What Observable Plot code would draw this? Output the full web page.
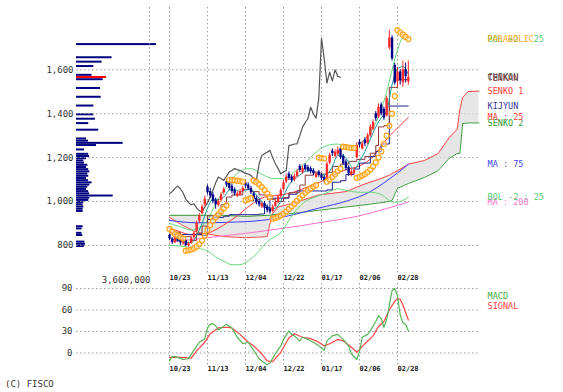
<!DOCTYPE html>
<html><head><meta charset="utf-8">
<script src="https://cdn.jsdelivr.net/npm/d3@7"></script>
<script src="https://cdn.jsdelivr.net/npm/@observablehq/plot@0.6"></script>
<style>
html,body{margin:0;padding:0;background:#fff;}
#chart{position:relative;width:563px;height:392px;overflow:hidden;font-family:"DejaVu Sans Mono",monospace;}
#chart svg{position:absolute;left:0;background:transparent;}
.copy{position:absolute;left:5px;top:378px;font-size:9px;line-height:12px;color:#333;}
</style></head><body><div id="chart"><div class="copy">(C) FISCO</div></div>
<script>
// ---------- data ----------
const dateLabels = ["10/23","11/13","12/04","12/22","01/17","02/06","02/28"];
const dateIdx    = [0,14,28,42,56,70,84];
const chartStartIdx = -7.4;
const yTicks = [800,1000,1200,1400,1600];
const macdTicks = [0,30,60,90];

const opens  = [845,828,812,838,822,808,822,798,810,835,862,910,945,985,1065,1045,1030,1005,982,1005,1040,1090,1085,1070,1050,1025,1030,1045,1085,1075,1060,1035,1015,1000,975,990,975,965,955,978,995,1022,1055,1090,1125,1112,1098,1115,1160,1130,1165,1155,1150,1140,1110,1135,1120,1110,1105,1175,1230,1205,1215,1240,1205,1180,1155,1120,1130,1200,1270,1240,1280,1265,1300,1330,1400,1385,1440,1420,1390,1700,1745,1620,1545,1590,1540,1600,1545];
const highs  = [852,835,842,845,830,835,828,815,838,862,910,945,985,1025,1075,1060,1040,1015,1010,1040,1065,1100,1092,1080,1062,1045,1055,1068,1095,1085,1068,1042,1025,1010,998,1000,985,972,985,1005,1030,1060,1095,1125,1135,1120,1125,1145,1168,1162,1172,1165,1158,1150,1135,1142,1128,1118,1180,1220,1240,1235,1248,1250,1215,1190,1162,1145,1152,1268,1282,1275,1290,1310,1350,1372,1410,1445,1450,1430,1480,1780,1755,1630,1610,1600,1640,1630,1640];
const lows   = [822,805,808,815,800,800,795,792,805,828,858,900,938,978,1030,1015,990,965,975,998,1030,1065,1050,1035,1025,1018,1025,1040,1060,1050,1032,1000,985,975,968,962,948,942,950,972,990,1015,1048,1082,1095,1085,1090,1108,1132,1125,1138,1132,1125,1118,1105,1110,1095,1085,1100,1168,1205,1198,1208,1192,1165,1140,1115,1112,1122,1195,1245,1235,1250,1258,1292,1322,1365,1378,1390,1370,1385,1690,1640,1530,1520,1530,1520,1540,1530];
const closes = [830,815,835,820,812,826,800,808,830,855,900,935,975,1010,1040,1025,1000,985,1000,1030,1055,1075,1060,1045,1035,1035,1045,1060,1070,1058,1040,1010,995,985,990,970,958,952,975,995,1020,1050,1085,1111,1105,1096,1115,1135,1141,1150,1145,1141,1135,1128,1125,1119,1105,1096,1170,1210,1218,1225,1233,1200,1172,1150,1126,1135,1141,1255,1258,1262,1263,1300,1339,1360,1377,1430,1400,1380,1470,1745,1650,1540,1590,1550,1600,1570,1566];
const CHIKOU_SHIFT = 25;

const sar = [875,862,852,845,838,832,776,778,781,786,794,806,822,845,870,893,912,928,942,955,968,982,1098,1097,1096,1095,1093,1090,1005,1010,1015,1095,1088,1078,1066,1052,1036,1020,922,925,930,936,944,954,966,978,990,1003,1016,1028,1040,1050,1060,1068,1075,1200,1198,1196,1090,1100,1112,1125,1138,1150,1250,1248,1246,1245,1244,1108,1112,1118,1125,1134,1146,1160,1178,1200,1228,1262,1300,1345,1400,1480,1780,1770,1760,1750,1740];

const ma25J  = [0,4,8,12,16,20,25,30,35,40,45,50,55,60,65,70,75,79,84,88];
const ma25V  = [880,862,848,848,865,893,935,985,1020,1028,1040,1062,1085,1118,1145,1162,1205,1270,1335,1383];
const ma75J  = [0,10,21,34,44,55,66,74,79,84,88];
const ma75V  = [914,903,905,914,935,970,1005,1045,1085,1130,1170];
const ma200J = [0,14,28,42,56,70,80,88];
const ma200V = [815,835,855,878,905,935,968,998];
const bolUJ  = [0,4,8,11,14,17,20,23,26,30,34,38,42,46,50,54,58,62,66,70,74,78,80,82,84,86,88];
const bolUV  = [900,885,870,880,915,990,1050,1100,1140,1150,1125,1105,1105,1135,1175,1225,1255,1262,1245,1262,1315,1420,1500,1600,1690,1745,1740];
const bolLJ  = [0,4,8,11,14,17,20,23,26,29,32,35,38,41,44,47,50,54,58,62,66,70,74,78,81,83,86,88];
const bolLV  = [800,797,790,785,775,748,728,712,712,730,760,805,835,858,915,965,1000,1022,1040,1058,1048,1042,1042,1032,1005,996,1005,1020];
const tenkanJ = [0,4,8,10,12,14,17,19,21,23,27,30,33,36,39,42,44,48,50,53,56,58,60,63,66,69,72,74,76,77,79,81,84,88];
const tenkanV = [860,840,822,855,888,935,945,985,1020,1030,1055,1045,1030,1010,1000,1018,1040,1075,1120,1130,1125,1133,1160,1170,1183,1192,1205,1220,1255,1340,1345,1520,1555,1560];
const kijunJ = [0,12,14,16,20,22,33,35,37,44,47,58,60,63,65,68,70,74,76,78,81,88];
const kijunV = [850,845,918,928,933,940,943,972,1015,1033,1048,1053,1088,1095,1123,1148,1175,1205,1228,1262,1435,1435];
const tealJ = [0,2,4,6,8,10,12,14,16,18,20,22,24,26,28,30,32,34,36,38,40,42,44,46,48,50,52,54,56,58,60,62,64,66,68,70,72,74,76,78,80,82,84,86,88];
const tealV = [835,825,822,815,812,845,900,970,1010,1010,1020,1052,1055,1045,1052,1055,1030,1000,978,966,980,1026,1075,1103,1120,1137,1142,1133,1122,1125,1160,1211,1210,1180,1145,1183,1228,1284,1340,1381,1411,1532,1604,1615,1580];
const cloudS = [0,5,10,20,28,36,37,38,40,45,55,65,72,78,81,82,84,88,94,99,103,106,107,108,110,114];
const senko1 = [928,890,860,840,835,840,900,946,975,990,1030,1045,1080,1105,1120,1128,1140,1170,1187,1219,1290,1330,1420,1474,1501,1503];
const senko2 = [937,937,937,937,932,937,937,940,942,945,960,975,985,995,1000,1005,1060,1082,1110,1141,1196,1219,1219,1355,1358,1358];

const volBins = [1710,1650,1630,1610,1570,1560,1550,1510,1470,1430,1390,1370,1350,1320,1280,1270,1260,1250,1230,1210,1200,1190,1180,1170,1160,1150,1140,1130,1120,1110,1100,1090,1080,1070,1060,1050,1040,1030,1020,1010,1000,990,980,970,960,950,880,870,850,840,810,800,790];
const volAmts = [3600000,1600000,1150000,780000,700000,1350000,1200000,1080000,1110000,780000,780000,850000,550000,1000000,450000,540000,2100000,900000,360000,550000,590000,450000,330000,360000,510000,450000,550000,600000,510000,550000,450000,540000,700000,600000,510000,450000,550000,590000,1650000,600000,550000,330000,300000,330000,300000,300000,300000,250000,250000,280000,380000,400000,350000];
const VOL_BIN = 10;
const CURRENT_BIN = 1560;
const VOL_MAX = 3600000;

const macdJ = [0,1,2,3,5,7,9,11,13,14,15,16,17,18,19,21,23,25,27,29,31,33,35,36,37,39,41,42,44,45,46,48,49,51,53,55,57,58,60,62,64,66,67,69,70,71,73,74,76,77,78,79,80,81,82,83,84,85,86,87,88];
const macdV = [-11,-5,-5,-6,-9,-8,4,15,20,35,40,41,38,32,35,40,35,22,13,15,4,-8,-14,-16,-14,-1,10,19,31,26,24,17,22,19,15,10,4,17,24,26,19,10,-1,-9,2,22,26,31,44,52,48,36,46,67,87,90,80,53,42,40,31];
const sigJ = [0,4,8,10,13,15,18,21,23,26,29,31,34,36,38,41,44,46,49,52,54,57,59,62,64,67,69,72,75,77,79,81,83,84,85,86,88];
const sigV = [-6,-6,-7,3,15,27,35,36,35,26,15,10,-1,-11,-12,1,21,27,22,20,17,10,13,19,17,8,1,13,24,37,44,60,72,76,75,67,46];

// ---------- layout / style ----------
const W = 563;
const FONT = "DejaVu Sans Mono";
const X_DOMAIN = [-34.27, 113.85];
const LABEL_X = 117.2;
const C = {up:"#ff2a2a", down:"#000088", sar:"#ffa31a", bol:"#66d97a", chikou:"#555555", tenkan:"#8b3a3a",
  teal:"#1a9a9a", senko1:"#ff4a4a", senko2:"#3a9a3a", kijun:"#22228c", ma25:"#ff3b3b", ma75:"#3b3bff",
  ma200:"#ff70cf", macd:"#55b455", signal:"#ff4545", grid:"#9a9a9a", text:"#333333"};
const GRID = {stroke: C.grid, strokeOpacity: 1, strokeDasharray: "1.5,2.5", strokeWidth: 1};
const fmtComma = d3.format(",");

const pairs = (xs, ys) => xs.map((x, k) => ({x, y: ys[k]}));
const last = a => a[a.length - 1];
const candles = closes.map((c, i) => ({i, o: opens[i], h: highs[i], l: lows[i], c, col: c >= opens[i] ? C.up : C.down}));
const chikou = closes.slice(CHIKOU_SHIFT).map((c, k) => ({x: k, y: c}));
const cloud = cloudS.map((s, k) => ({x: s, y1: senko1[k], y2: senko2[k]}));
const sarPts = sar.map((v, i) => ({x: i, y: v}));
const xLabels = dateIdx.map((d, k) => ({x: d, t: dateLabels[k]}));
const vol = volBins.map((b, k) => ({b, v: volAmts[k], col: b === CURRENT_BIN ? "#ff0000" : "#000080"}));

const legend = [
  {t:"BOL +2 : 25", c:"#55cc77", v:last(bolUV)},
  {t:"PARABOLIC", c:"#ffaa22", v:last(sar)},
  {t:"CHIKOU", c:"#555555", v:last(closes)},
  {t:"TENKAN", c:"#7a3a3a", v:last(tenkanV)},
  {t:"SENKO 1", c:"#ff3b3b", v:last(senko1)},
  {t:"KIJYUN", c:"#333399", v:last(kijunV)},
  {t:"SENKO 2", c:"#339933", v:last(senko2)},
  {t:"MA : 25", c:"#ff3b3b", v:last(ma25V)},
  {t:"MA : 75", c:"#4444ff", v:last(ma75V)},
  {t:"MA : 200", c:"#ff77cc", v:last(ma200V)},
  {t:"BOL -2 : 25", c:"#55cc77", v:last(bolLV)}
];

const line = (pts, stroke, extra = {}) => Plot.line(pts, {x: "x", y: "y", stroke, strokeWidth: 1, ...extra});

// ---------- volume profile (overlay) ----------
const volPlot = Plot.plot({
  width: W, height: 285, marginLeft: 76, marginRight: W - 156, marginTop: 7, marginBottom: 12,
  x: {domain: [0, VOL_MAX], axis: null},
  y: {domain: [672, 1884], axis: null},
  color: {type: "identity"},
  marks: [
    Plot.rectX(vol, {y1: "b", y2: d => d.b + VOL_BIN, x: "v", fill: "col", insetTop: 0.1, insetBottom: 0.1}),
    Plot.text([VOL_MAX], {x: d => d, text: d => fmtComma(d), frameAnchor: "bottom", dy: 9, dx: -6,
      textAnchor: "end", fontSize: 9, fill: C.text, fontFamily: FONT})
  ]
});

// ---------- main price chart ----------
const mainPlot = Plot.plot({
  width: W, height: 285, marginLeft: 76, marginRight: 85, marginTop: 7, marginBottom: 12,
  x: {domain: X_DOMAIN, axis: null},
  y: {domain: [672, 1884], axis: null},
  color: {type: "identity"},
  marks: [
    Plot.gridY({ticks: yTicks, ...GRID}),
    Plot.gridX({ticks: [chartStartIdx, ...dateIdx], ...GRID}),
    Plot.axisY({ticks: yTicks, tickSize: 0, tickPadding: 3, tickFormat: fmtComma, fontSize: 9, color: C.text, fontFamily: FONT, label: null}),
    Plot.areaY(cloud, {x: "x", y1: "y1", y2: "y2", fill: "#dedede", fillOpacity: 0.75}),
    line(cloud.map(d => ({x: d.x, y: d.y1})), C.senko1),
    line(cloud.map(d => ({x: d.x, y: d.y2})), C.senko2),
    line(pairs(ma200J, ma200V), C.ma200, {curve: "monotone-x"}),
    line(pairs(ma75J, ma75V), C.ma75, {curve: "monotone-x"}),
    line(pairs(bolUJ, bolUV), C.bol, {curve: "monotone-x"}),
    line(pairs(bolLJ, bolLV), C.bol, {curve: "monotone-x"}),
    line(pairs(ma25J, ma25V), C.ma25, {curve: "monotone-x"}),
    line(pairs(kijunJ, kijunV), C.kijun, {curve: "step-after"}),
    line(pairs(tenkanJ, tenkanV), C.tenkan, {curve: "step-after"}),
    line(pairs(tealJ, tealV), C.teal, {curve: "monotone-x"}),
    line(chikou, C.chikou, {strokeWidth: 1.2}),
    Plot.ruleX(candles, {x: "i", y1: "l", y2: "h", stroke: "col", strokeWidth: 1}),
    Plot.ruleX(candles, {x: "i", y1: "o", y2: "c", stroke: "col", strokeWidth: 2.4}),
    Plot.dot(sarPts, {x: "x", y: "y", r: 2.5, stroke: C.sar, strokeWidth: 1.2, fill: "#fff4dc", fillOpacity: 0.5}),
    Plot.text(xLabels, {x: "x", text: "t", frameAnchor: "bottom", dy: 6.5, textAnchor: "start",
      fontSize: 7, fontWeight: "bold", fill: "#222", fontFamily: FONT}),
    Plot.text(legend, {x: () => LABEL_X, y: "v", text: "t", fill: "c", textAnchor: "start", fontSize: 8.5, fontFamily: FONT})
  ]
});

// ---------- MACD ----------
const macdPlot = Plot.plot({
  width: W, height: 101, marginLeft: 76, marginRight: 85, marginTop: 7, marginBottom: 12,
  x: {domain: X_DOMAIN, axis: null},
  y: {domain: [-17.4, 97], axis: null},
  color: {type: "identity"},
  marks: [
    Plot.gridY({ticks: macdTicks, ...GRID}),
    Plot.gridX({ticks: dateIdx, ...GRID}),
    Plot.axisY({ticks: macdTicks, tickSize: 0, tickPadding: 4, tickFormat: fmtComma, fontSize: 9, color: C.text, fontFamily: FONT, label: null}),
    line(pairs(sigJ, sigV), C.signal, {strokeWidth: 1.2}),
    line(pairs(macdJ, macdV), C.macd, {strokeWidth: 1.2}),
    Plot.text(xLabels, {x: "x", text: "t", frameAnchor: "bottom", dy: 5.5, textAnchor: "start",
      fontSize: 7, fontWeight: "bold", fill: "#222", fontFamily: FONT}),
    Plot.text(["MACD"], {x: () => LABEL_X, text: d => d, frameAnchor: "top", dy: 9, textAnchor: "start", fontSize: 8.5, fill: "#44aa44", fontFamily: FONT}),
    Plot.text(["SIGNAL"], {x: () => LABEL_X, text: d => d, frameAnchor: "top", dy: 19, textAnchor: "start", fontSize: 8.5, fill: "#ff4040", fontFamily: FONT})
  ]
});

const root = document.getElementById("chart");
[[volPlot, 0], [mainPlot, 0], [macdPlot, 276]].forEach(([svg, top]) => {
  svg.style.position = "absolute";
  svg.style.left = "0px";
  svg.style.top = top + "px";
  svg.style.background = "transparent";
  svg.style.maxWidth = "none";
  root.appendChild(svg);
});
</script></body></html>
